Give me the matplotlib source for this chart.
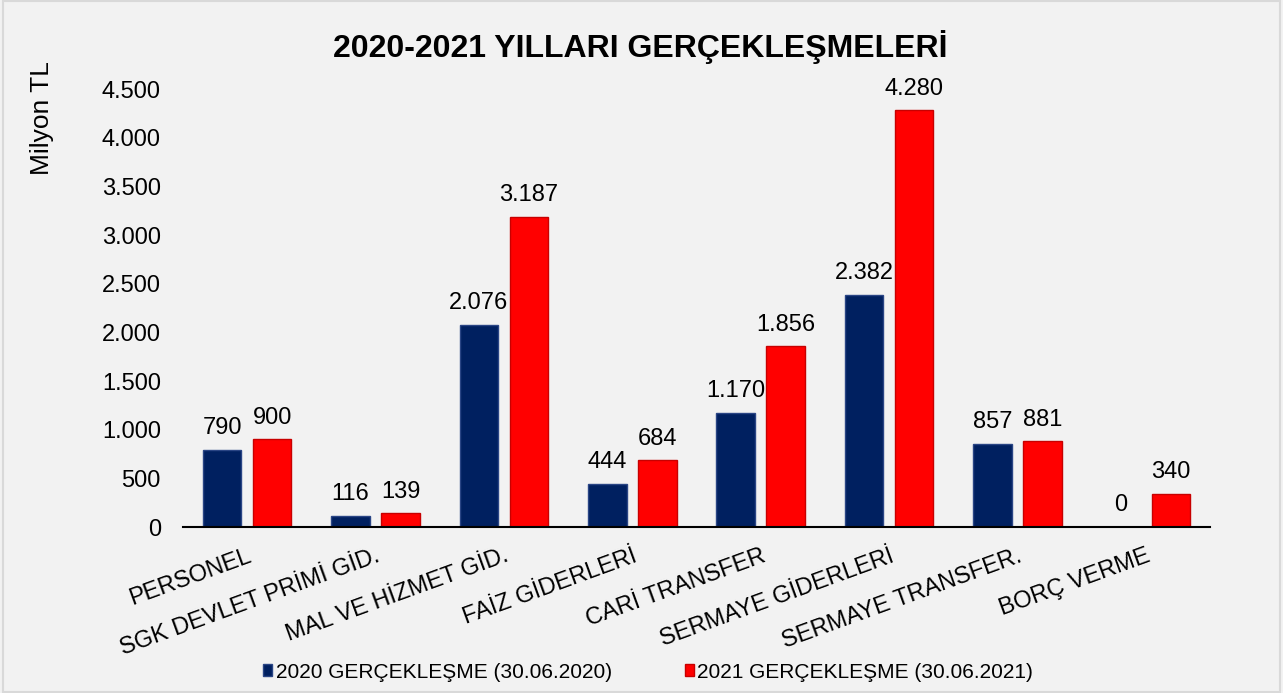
import matplotlib.pyplot as plt
import numpy as np

plt.rcParams['font.family'] = ['Liberation Sans', 'DejaVu Sans']

# categories and values (Milyon TL)
categories = ['PERSONEL', 'SGK DEVLET PRİMİ GİD.', 'MAL VE HİZMET GİD.', 'FAİZ GİDERLERİ',
              'CARİ TRANSFER', 'SERMAYE GİDERLERİ', 'SERMAYE TRANSFER.', 'BORÇ VERME']
values_2020 = [790, 116, 2076, 444, 1170, 2382, 857, 0]
values_2021 = [900, 139, 3187, 684, 1856, 4280, 881, 340]
series_names = ['2020 GERÇEKLEŞME (30.06.2020)', '2021 GERÇEKLEŞME (30.06.2021)']
yticks = [0, 500, 1000, 1500, 2000, 2500, 3000, 3500, 4000, 4500]

def fmt(v):
    return '{:,}'.format(v).replace(',', '.')

bg = '#f2f2f2'
fig = plt.figure(figsize=(12.83, 6.93), dpi=100, facecolor=bg)
ax = fig.add_axes([183/1283, 1 - 527/693, (1210-183)/1283, (527-89)/693])
ax.set_facecolor(bg)

x = np.arange(len(categories))
w = 0.30
off = 0.195
b1 = ax.bar(x - off, values_2020, w, color='#002060', edgecolor='#2a4585', linewidth=1, label=series_names[0], zorder=3)
b2 = ax.bar(x + off, values_2021, w, color='#ff0000', edgecolor='#c80000', linewidth=1, label=series_names[1], zorder=3)

for bars, vals in ((b1, values_2020), (b2, values_2021)):
    for rect, v in zip(bars, vals):
        ax.text(rect.get_x() + rect.get_width() / 2, v + 110, fmt(v),
                ha='center', va='bottom', fontsize=17, color='#000000')

ax.set_xlim(-0.5, len(categories) - 0.5)
ax.set_ylim(0, 4500)
ax.set_yticks(yticks)
ax.set_yticklabels([fmt(t) for t in yticks], fontsize=17)
ax.tick_params(axis='y', length=0, pad=16)
ax.set_xticks(x)
ax.set_xticklabels(categories, fontsize=17, rotation=20, ha='right', va='top', rotation_mode='anchor')
ax.tick_params(axis='x', length=0, pad=13)
for s in ['top', 'right', 'left']:
    ax.spines[s].set_visible(False)
ax.spines['bottom'].set_linewidth(1.5)
ax.spines['bottom'].set_zorder(4)

fig.text(42/1283, 1 - 118/693, 'Milyon TL', rotation=90, ha='center', va='center', fontsize=19)
fig.text(640/1283, 1 - 47/693, '2020-2021 YILLARI GERÇEKLEŞMELERİ', ha='center', va='center',
         fontsize=23, fontweight='bold')

fig.legend(handles=[b1, b2], loc='center', bbox_to_anchor=(648/1283, 1 - 672/693), ncol=2,
           frameon=False, fontsize=15, handlelength=0.45, handleheight=0.45, handletextpad=0.15,
           columnspacing=3.5)

fig.patches.append(plt.Rectangle((0.002, 0.002), 0.996, 0.996, transform=fig.transFigure,
                                 fill=False, edgecolor='#d9d9d9', linewidth=1.5))

fig.savefig('out.png', dpi=100, facecolor=bg)
